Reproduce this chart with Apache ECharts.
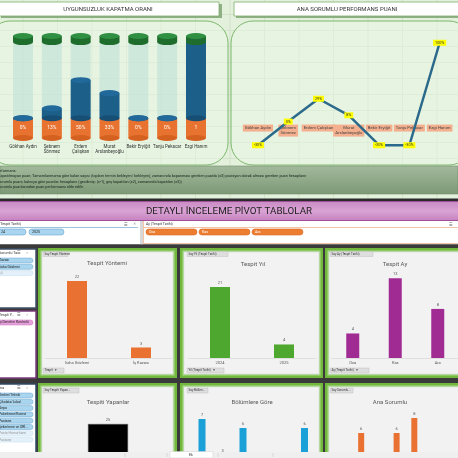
<!DOCTYPE html>
<html><head><meta charset="utf-8">
<script src="https://cdn.jsdelivr.net/npm/echarts@6/dist/echarts.min.js"></script>
<style>html,body{margin:0;padding:0;background:#3a3a3a}#c{width:458px;height:458px}</style>
</head><body><div id="c"></div><script>
// ---------------- DATA ----------------
const people = ['Gökhan Aydın','Şebnem\nSönmez','Erdem\nÇalışkan','Murat\nArslanbeyoğlu','Bekir Eryiğit','Tanju Pekacar','Ezgi Hanım'];
const peopleLine = ['Gökhan Aydın','Şebnem\nSönmez','Erdem Çalışkan','Murat\nArslanbeyoğlu','Bekir Eryiğit','Tanju Pekacar','Ezgi Hanım'];
const closeRate = [0, 13, 50, 33, 0, 0, 100];
const closeRateLabels = ['0%','13%','50%','33%','0%','0%','1'];
const cylBase = [26, 26, 26, 26, 26, 26, 26];
const cylCap = [8, 8, 8, 8, 8, 8, 8];
const perfScore = [-30, 0, 29, 8, -30, -30, 100];
const perfLabels = ['-30%','0%','29%','8%','-30%','-30%','100%'];
const methodCats = ['Saha Gözlemi','İş Kazası'];
const methodVals = [22, 3];
const yearCats = ['2024','2025'];
const yearVals = [21, 4];
const monthCats = ['Oca','Kas','Ara'];
const monthVals = [4, 13, 8];
const inspectorCats = ['Toplam'];
const inspectorVals = [25];
const deptCats = ['Üretim','Kalite','Depo','Bakım','İdari','Lojistik'];
const deptVals = [7, 3, 6, 2, 1, 6];
const ownerCats = ['Gökhan Aydın','Şebnem Sönmez','Erdem Çalışkan','Murat Arslanbeyoğlu','Bekir Eryiğit','Tanju Pekacar','Ezgi Hanım'];
const ownerVals = [2, 6, 1, 6, 8, 1, 1];

// ---------------- DRAW ----------------
const chart = echarts.init(document.getElementById('c'), null, {renderer:'canvas', width:458, height:458});
const F = 'Roboto';
const g = [];
let zc = -100;
function nz(){ zc += 0.05; return zc; }
function R(x,y,w,h,fill,stroke,lw,r,z){ g.push({type:'rect', silent:true, z: z==null?nz():z, shape:{x:x,y:y,width:w,height:h,r:r||0}, style:{fill:fill||'none', stroke:stroke||'none', lineWidth:lw||0}}); }
function T(x,y,s,size,color,align,weight,z){ g.push({type:'text', silent:true, z: z==null?nz():z, x:x, y:y, style:{text:s, fontSize:size, fontFamily:F, fill:color, align:align||'left', verticalAlign:'middle', fontWeight:weight||'normal'}}); }
function L(x1,y1,x2,y2,color,lw,z){ g.push({type:'line', silent:true, z: z==null?nz():z, shape:{x1:x1,y1:y1,x2:x2,y2:y2}, style:{stroke:color, lineWidth:lw}}); }

// page background
R(0,0,458,458,'#3a3a3a');
// top excel area
R(0,0,458,199,'#e3f0dc');
for (let y=14; y<199; y+=16) L(0,y+0.5,458,y+0.5,'#c9dcc0',0.6);
for (let x=23; x<458; x+=34.5) L(x,0,x,199,'#c9dcc0',0.6);
// title boxes
R(1,4,221,14,'#8fb084');
R(-2,2,221,14,'#ffffff','#7fae6f',0.8);
T(108,9,'UYGUNSUZLUK KAPATMA ORANI',6,'#333','center');
R(236,4,226,14,'#8fb084');
R(234,2,226,14,'#ffffff','#7fae6f',0.8);
T(347,9,'ANA SORUMLU PERFORMANS PUANI',6,'#333','center');
// rounded panels
R(-12,21,240,144,'rgba(236,248,231,0.45)','#7db86d',1,22);
R(231,21,240,144,'rgba(236,248,231,0.45)','#7db86d',1,22);
// notes band
g.push({type:'rect', silent:true, z:nz(), shape:{x:0,y:166,width:458,height:28}, style:{fill:new echarts.graphic.LinearGradient(0,0,0,1,[{offset:0,color:'#a3ba9c'},{offset:1,color:'#7c9876'}]), stroke:'#6f8f69', lineWidth:0.6}});
T(-2,171,'erformans:',3.8,'#16221a');
T(-2,176.5,'Kapatılmayan puan; Tamamlanmama göre kalan sayısı (toplam termin bekleyen/ bekleyen), zamanında kapanması gereken puanla (x3) pozisyon olarak olması gereken puan hesaplanır',3.8,'#16221a');
T(-2,182,'Sorumlu puanı; kalıcıya göre puanlar hesaplanır (gecikmiş: (x-1), geç kapatılan (x2), zamanında kapatılan (x3))',3.8,'#16221a');
T(-2,187.5,'Sorumlu puanlarından puan performansı elde edilir',3.8,'#16221a');
// dark line + purple band
R(0,198.5,458,3,'#2b2b2b');
g.push({type:'rect', silent:true, z:nz(), shape:{x:0,y:201,width:458,height:20}, style:{fill:new echarts.graphic.LinearGradient(0,0,0,1,[{offset:0,color:'#c98ac4'},{offset:0.5,color:'#d9a3d4'},{offset:1,color:'#c580bf'}])}});
L(0,201.5,458,201.5,'#a04e98',1);
L(0,220.5,458,220.5,'#a04e98',1);
T(229,211.5,'DETAYLI İNCELEME PİVOT TABLOLAR',9.8,'#1f1f1f','center');
// slicer row
R(0,221,458,23.5,'#ffffff');
R(140,221,3,23.5,'#d8d8d8');
L(0,227.5,138,227.5,'#9cc3dc',1);
T(-1,224.3,'(Tespit Tarihi)',3.6,'#333');
T(124,224.5,'☰',4,'#666'); T(133,224.5,'✕',3.5,'#999');
R(-4,229,30,6,'#a9d5ee','#6aa6d0',0.6,3); T(1,232,'24',3.6,'#222');
R(29,229,35,6,'#a9d5ee','#6aa6d0',0.6,3); T(32,232,'2025',3.6,'#222');
L(143,227.5,458,227.5,'#f5c3a6',1);
L(143.5,221,143.5,244,'#f5c3a6',1);
L(143,243.5,458,243.5,'#f5c3a6',1);
T(146,224.3,'Ay (Tespit Tarihi)',3.6,'#333');
T(449,224.5,'☰',4,'#666');
R(146,229,51,6,'#ed7d31','#d96a22',0.6,3); T(149,232,'Oca',3.6,'#fff');
R(199,229,51,6,'#ed7d31','#d96a22',0.6,3); T(202,232,'Kas',3.6,'#fff');
R(252,229,51,6,'#ed7d31','#d96a22',0.6,3); T(255,232,'Ara',3.6,'#fff');
// lower dark area
R(0,244.5,458,214,'#3a3a3a');
function panel(x,y,w,h){
  R(x,y,w,h,'#72b83f');
  R(x+2.5,y+2.5,w-5,h-5,'#a9d98c');
  R(x+4,y+4,w-8,h-8,'#f2f2f2','#d6d6d6',0.5);
}
panel(38,248,139,130); panel(180,248,143,130); panel(325,248,140,130);
panel(38,383,139,80); panel(180,383,143,80); panel(325,383,140,80);
function btn(x,y,w,s){ R(x,y,w,5,'#dedede','#b8b8b8',0.4); T(x+1.5,y+2.6,s,3,'#333'); }
btn(43,251.5,25,'Say Tespit Yöntemi');
btn(187,251.5,41,'Say Yıl (Tespit Tarihi)');
btn(330,251.5,43,'Say Ay (Tespit Tarihi)');
btn(43,368,21,'Tespit  ▼');
btn(187,368,37,'Yıl (Tespit Tarihi)  ▼');
btn(330,368,39,'Ay (Tespit Tarihi)  ▼');
btn(43,388,36,'Say Tespiti Yapan...');
btn(187,388,21,'Say Bölüm...');
btn(330,388,23,'Say Sorumlu...');
T(107,263.5,'Tespit Yöntemi',6,'#595959','center');
T(253,264,'Tespit Yıl',6,'#595959','center');
T(395,264,'Tespit Ay',6,'#595959','center');
T(108,402.5,'Tespiti Yapanlar',6,'#595959','center');
T(252,402.5,'Bölümlere Göre',6,'#595959','center');
T(390,402.5,'Ana Sorumlu',6,'#595959','center');
// left slicers
function slicer(y,h,border,head,items){
  R(-5,y,41,h,'#ffffff',border,1.5);
  T(-1,y+4.5,head,3.6,'#333');
  T(17,y+4.5,'☰',3.6,'#666'); T(26,y+4.5,'✕',3.2,'#aaa');
  items.forEach((it,i)=>{ R(-6,y+9+i*6.3,39,5,it[1],it[2],0.5,2.5); T(-1,y+11.6+i*6.3,it[0],3.4,it[3]); });
}
slicer(249,59,'#3f5067','Sorumlu Ta...',[['Kazası','#a9d5ee','#6aa6d0','#222'],['Saha Gözlemi','#a9d5ee','#6aa6d0','#222'],['si)','#e4f1fa','#c4dff0','#999']]);
slicer(311,67,'#7b3b78','Tespit Y...',[['İç Denetim Kontrolü','#e8a0dd','#c774bb','#222']]);
slicer(384,70,'#2f4a66','ma',[['Üretim/Teknik','#a9d5ee','#6aa6d0','#222'],['Çikolata/Lokal','#a9d5ee','#6aa6d0','#222'],['Depo','#a9d5ee','#6aa6d0','#222'],['Paketleme/Komst','#a9d5ee','#6aa6d0','#222'],['Pastane','#a9d5ee','#6aa6d0','#222'],['Şekerleme ve ORİ...','#a9d5ee','#6aa6d0','#222'],['Pasta Hamurhane','#e4f1fa','#c4dff0','#999'],['Pastane','#e4f1fa','#c4dff0','#999']]);
// bottom sheet tabs (overlay)
R(0,452,458,6,'#efefef',null,0,0,60);
R(170,451.5,43,6.5,'#ffffff','#cfcfcf',0.5,0,61);
T(191,455.5,'Ek',3.5,'#333','center',null,62);
L(125,453,125,457,'#bdbdbd',0.5,61); L(167,453,167,457,'#bdbdbd',0.5,61); L(218,453,218,457,'#bdbdbd',0.5,61); L(273,453,273,457,'#bdbdbd',0.5,61);

// ---------------- CHART OPTION ----------------
const emptyPart = closeRate.map(v => 100 - v);
const blueTop = closeRate.map((v,i) => cylBase[i] + v);
const emptyTop = closeRate.map((v,i) => cylBase[i] + 100);
const capTop = closeRate.map((v,i) => cylBase[i] + 100 + cylCap[i]);
const ell = (name, data, color, z, pos) => ({
  type:'pictorialBar', name, xAxisIndex:0, yAxisIndex:0, data, symbol:'circle', symbolSize:[20,6],
  symbolPosition: pos||'end', symbolOffset:[0, pos==='start' ? '50%' : '-50%'], barWidth:20, barGap:'-100%',
  itemStyle:{color}, z, silent:true
});
const lineGrid = {left:242.8, top:27, width:212, height:134};
const lineMin = -50, lineMax = 120;
// offset moving the category axis up to the value-axis zero line
const zeroOffset = -(0 - lineMin) / (lineMax - lineMin) * lineGrid.height;
const grids = [
  {left:8.6, top:36, width:201.8, height:102},
  lineGrid,
  {left:45, top:270.5, width:128, height:87.5},
  {left:188, top:273.5, width:128, height:84.5},
  {left:331.5, top:266, width:127.5, height:92},
  {left:58, top:424, width:100, height:74},
  {left:191.75, top:410, width:123, height:72},
  {left:334.6, top:410.5, width:124, height:67.5}
].map(o => Object.assign({containLabel:false, outerBoundsMode:'none'}, o));
const catAxis = (gi, data, extra) => Object.assign({
  type:'category', gridIndex:gi, data,
  axisLine:{show:true, lineStyle:{color:'#d9d9d9', width:0.8}}, axisTick:{show:false},
  axisLabel:{fontSize:4, color:'#595959', margin:3, interval:0, fontFamily:F},
  splitLine:{show:false}
}, extra||{});
const valAxis = (gi, min, max) => ({type:'value', gridIndex:gi, min, max, show:false, splitLine:{show:false}});
const barLabel = {show:true, position:'top', fontSize:4, color:'#595959', distance:2, fontFamily:F};

const option = {
  animation:false,
  textStyle:{fontFamily:F},
  graphic:{elements:g},
  grid:grids,
  xAxis:[
    catAxis(0, people, {axisLine:{show:false}, axisLabel:{fontSize:4.5, color:'#333', margin:6, interval:0, lineHeight:5, fontFamily:F}}),
    catAxis(1, peopleLine, {offset:zeroOffset, axisLine:{show:true, onZero:false, lineStyle:{color:'rgba(0,0,0,0)'}}, axisLabel:{fontSize:4.3, color:'#444', margin:3, interval:0, lineHeight:5, backgroundColor:'#f4b08e', padding:[1,2], fontFamily:F}}),
    catAxis(2, methodCats), catAxis(3, yearCats), catAxis(4, monthCats),
    catAxis(5, inspectorCats), catAxis(6, deptCats), catAxis(7, ownerCats)
  ],
  yAxis:[
    valAxis(0,0,134), valAxis(1,lineMin,lineMax), valAxis(2,0,25), valAxis(3,0,25), valAxis(4,0,15),
    valAxis(5,0,25), valAxis(6,0,8), valAxis(7,0,9)
  ],
  series:[
    {type:'bar', name:'base', stack:'cyl', data:cylBase, barWidth:20, barGap:'-100%', itemStyle:{color:'#e8722f'},
     label:{show:true, position:'inside', color:'#fff', fontSize:5, formatter:p=>closeRateLabels[p.dataIndex]}},
    {type:'bar', name:'rate', stack:'cyl', data:closeRate, barWidth:20, barGap:'-100%', itemStyle:{color:'#1c5f88'}},
    {type:'bar', name:'empty', stack:'cyl', data:emptyPart, barWidth:20, barGap:'-100%', itemStyle:{color:'rgba(190,224,216,0.6)'}},
    {type:'bar', name:'cap', stack:'cyl', data:cylCap, barWidth:20, barGap:'-100%', itemStyle:{color:'#1f6d2c'}},
    ell('e0', cylBase, '#d4611f', 3, 'start'),
    ell('e1', cylBase, '#174f74', 4),
    ell('e2', blueTop, '#20699a', 5),
    ell('e3', emptyTop, '#1f6d2c', 6),
    ell('e4', capTop, '#2f8f42', 7),
    {type:'line', xAxisIndex:1, yAxisIndex:1, data:perfScore, symbol:'circle', symbolSize:2, showSymbol:true,
     lineStyle:{color:'#2c6a8b', width:2.5}, itemStyle:{color:'#2c6a8b'},
     label:{show:true, position:'inside', formatter:p=>perfLabels[p.dataIndex], backgroundColor:'#ffff00', padding:[1,2], fontSize:3.8, color:'#333'}, z:5},
    {type:'bar', xAxisIndex:2, yAxisIndex:2, data:methodVals, barWidth:20, itemStyle:{color:'#e97132'}, label:barLabel},
    {type:'bar', xAxisIndex:3, yAxisIndex:3, data:yearVals, barWidth:20, itemStyle:{color:'#4ea72e'}, label:barLabel},
    {type:'bar', xAxisIndex:4, yAxisIndex:4, data:monthVals, barWidth:13, itemStyle:{color:'#a02b93'}, label:barLabel},
    {type:'bar', xAxisIndex:5, yAxisIndex:5, data:inspectorVals, barWidth:40,
     itemStyle:{color:new echarts.graphic.RadialGradient(0.5,1,0.45,[{offset:0,color:'#9a9a9a'},{offset:0.6,color:'#222'},{offset:1,color:'#000'}]), borderColor:'#555', borderWidth:0.5}, label:barLabel},
    {type:'bar', xAxisIndex:6, yAxisIndex:6, data:deptVals, barWidth:7, itemStyle:{color:'#1ba1d8'}, label:barLabel},
    {type:'bar', xAxisIndex:7, yAxisIndex:7, data:ownerVals, barWidth:6, itemStyle:{color:'#e97132'}, label:barLabel}
  ]
};
chart.setOption(option);
</script></body></html>
